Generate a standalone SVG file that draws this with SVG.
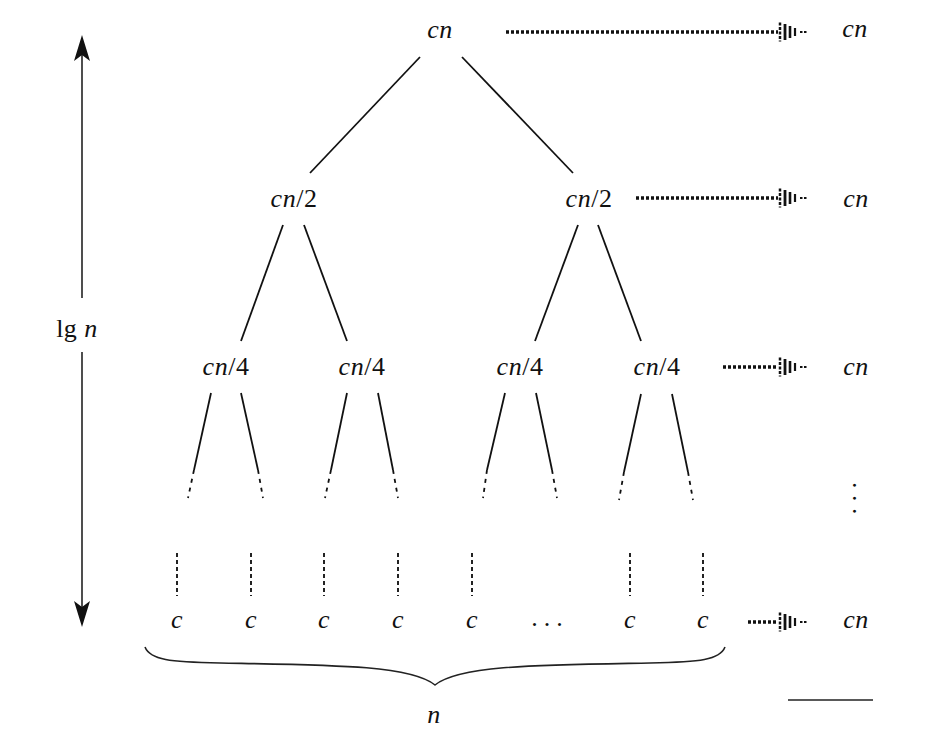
<svg xmlns="http://www.w3.org/2000/svg" width="943" height="737" viewBox="0 0 943 737">
<style>
text{font-family:"Liberation Serif","Times New Roman",serif;font-size:26px;fill:#111;text-anchor:middle;letter-spacing:0.5px}
.i{font-style:italic}
.edge{stroke:#111;stroke-width:1.8;fill:none}
.dash{stroke:#111;stroke-width:1.8;fill:none;stroke-dasharray:4 5}
.vdot{stroke:#222;stroke-width:2;fill:none;stroke-dasharray:4 3}
.dot{stroke:#111;stroke-width:3.5;fill:none;stroke-dasharray:3 2}
</style>
<defs>
<g id="head">
<line x1="0" y1="-9.5" x2="0" y2="9.5" stroke="#111" stroke-width="2.5" stroke-dasharray="3 1.5"/>
<line x1="5" y1="-8" x2="5" y2="8" stroke="#111" stroke-width="2.8"/>
<line x1="10" y1="-6" x2="10" y2="6" stroke="#111" stroke-width="2.6"/>
<line x1="15" y1="-4" x2="15" y2="4" stroke="#111" stroke-width="2.2"/>
<line x1="20" y1="0" x2="28" y2="0" stroke="#111" stroke-width="2" stroke-dasharray="2.5 1.5"/>
</g>
</defs>
<rect width="943" height="737" fill="#fff"/>

<g id="connectors">
<line class="edge" x1="420" y1="57" x2="310" y2="173"/>
<line class="edge" x1="462" y1="57" x2="573" y2="173"/>
<line class="edge" x1="283" y1="225" x2="241" y2="341"/>
<line class="edge" x1="304" y1="225" x2="347" y2="341"/>
<line class="edge" x1="578" y1="225" x2="535" y2="341"/>
<line class="edge" x1="598" y1="225" x2="641" y2="341"/>
<line class="edge" x1="211" y1="393" x2="194" y2="470"/><line class="dash" x1="194" y1="470" x2="188" y2="498"/>
<line class="edge" x1="241" y1="393" x2="258" y2="470"/><line class="dash" x1="258" y1="470" x2="263" y2="498"/>
<line class="edge" x1="347" y1="393" x2="331" y2="470"/><line class="dash" x1="331" y1="470" x2="325" y2="498"/>
<line class="edge" x1="378" y1="393" x2="393" y2="470"/><line class="dash" x1="393" y1="470" x2="398" y2="498"/>
<line class="edge" x1="505" y1="393" x2="487" y2="470"/><line class="dash" x1="487" y1="470" x2="483" y2="498"/>
<line class="edge" x1="536" y1="393" x2="552" y2="470"/><line class="dash" x1="552" y1="470" x2="557" y2="498"/>
<line class="edge" x1="641" y1="394" x2="624" y2="472"/><line class="dash" x1="624" y1="472" x2="619" y2="500"/>
<line class="edge" x1="672" y1="394" x2="688" y2="472"/><line class="dash" x1="688" y1="472" x2="693" y2="500"/>
<line class="vdot" x1="177" y1="553" x2="177" y2="596"/>
<line class="vdot" x1="251" y1="553" x2="251" y2="596"/>
<line class="vdot" x1="324" y1="553" x2="324" y2="596"/>
<line class="vdot" x1="398" y1="553" x2="398" y2="596"/>
<line class="vdot" x1="472" y1="553" x2="472" y2="596"/>
<line class="vdot" x1="630" y1="553" x2="630" y2="596"/>
<line class="vdot" x1="703" y1="553" x2="703" y2="596"/>
<line class="dot" x1="506" y1="32" x2="778" y2="32"/><use href="#head" x="780" y="32"/>
<line class="dot" x1="636" y1="198" x2="778" y2="198"/><use href="#head" x="780" y="198"/>
<line class="dot" x1="723" y1="367" x2="778" y2="367"/><use href="#head" x="780" y="367"/>
<line class="dot" x1="748" y1="622" x2="778" y2="622"/><use href="#head" x="780" y="622"/>
<line x1="82" y1="55" x2="82" y2="298" stroke="#222" stroke-width="1.6"/>
<line x1="82" y1="352" x2="82" y2="608" stroke="#222" stroke-width="1.6"/>
<polygon points="82,35 90,61 82,55 74,61" fill="#111"/>
<polygon points="82,627 90,601 82,607 74,601" fill="#111"/>
<path d="M145,647 C150,660 170,662 220,663 C330,665 410,665 435,685 C460,665 540,665 650,663 C700,662 720,660 725,647" fill="none" stroke="#222" stroke-width="1.6"/>
<line x1="788" y1="700" x2="873" y2="700" stroke="#222" stroke-width="1.6"/>
</g>

<g id="n-root"><text x="440" y="38" class="i">cn</text></g>
<g id="n-l1a"><text x="294" y="207"><tspan class="i">cn</tspan>/2</text></g>
<g id="n-l1b"><text x="589" y="207"><tspan class="i">cn</tspan>/2</text></g>
<g id="n-l2a"><text x="226" y="375"><tspan class="i">cn</tspan>/4</text></g>
<g id="n-l2b"><text x="362" y="375"><tspan class="i">cn</tspan>/4</text></g>
<g id="n-l2c"><text x="520" y="375"><tspan class="i">cn</tspan>/4</text></g>
<g id="n-l2d"><text x="657" y="375"><tspan class="i">cn</tspan>/4</text></g>
<g id="leaves">
<text x="177" y="628" class="i">c</text>
<text x="251" y="628" class="i">c</text>
<text x="324" y="628" class="i">c</text>
<text x="398" y="628" class="i">c</text>
<text x="472" y="628" class="i">c</text>
<text x="550" y="626" style="letter-spacing:6px">...</text>
<text x="630" y="628" class="i">c</text>
<text x="703" y="628" class="i">c</text>
</g>
<g id="sums">
<text x="855" y="37" class="i">cn</text>
<text x="856" y="207" class="i">cn</text>
<text x="856" y="375" class="i">cn</text>
<text transform="translate(853,482) rotate(90)" x="0" y="0" style="text-anchor:start;letter-spacing:6.5px">...</text>
<text x="856" y="628" class="i">cn</text>
</g>
<g id="label-lgn"><text x="77" y="337">lg <tspan class="i">n</tspan></text></g>
<g id="label-n"><text x="434" y="723" class="i">n</text></g>
</svg>
